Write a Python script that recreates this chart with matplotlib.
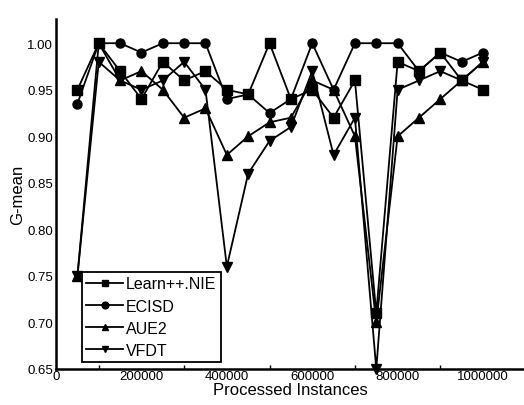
import matplotlib
matplotlib.use('Agg')
import matplotlib.pyplot as plt
from matplotlib.ticker import MultipleLocator, FixedLocator

plt.rcParams['font.family'] = ['Liberation Sans', 'DejaVu Sans']

# data
instances = [50000, 100000, 150000, 200000, 250000, 300000, 350000, 400000,
             450000, 500000, 550000, 600000, 650000, 700000, 750000, 800000,
             850000, 900000, 950000, 1000000]
learn_nie = [0.95, 1.00, 0.97, 0.94, 0.98, 0.96, 0.97, 0.95, 0.945, 1.00,
             0.94, 0.95, 0.92, 0.96, 0.71, 0.98, 0.97, 0.99, 0.96, 0.95]
ecisd = [0.935, 1.00, 1.00, 0.99, 1.00, 1.00, 1.00, 0.94, 0.945, 0.925,
         0.94, 1.00, 0.95, 1.00, 1.00, 1.00, 0.97, 0.99, 0.98, 0.99]
aue2 = [0.75, 1.00, 0.96, 0.97, 0.95, 0.92, 0.93, 0.88, 0.90, 0.915,
        0.92, 0.96, 0.95, 0.90, 0.70, 0.90, 0.92, 0.94, 0.96, 0.98]
vfdt = [0.75, 0.98, 0.96, 0.95, 0.96, 0.98, 0.95, 0.76, 0.86, 0.895,
        0.91, 0.97, 0.88, 0.92, 0.65, 0.95, 0.96, 0.97, 0.96, 0.98]

series = [('Learn++.NIE', learn_nie, 's'),
          ('ECISD', ecisd, 'o'),
          ('AUE2', aue2, '^'),
          ('VFDT', vfdt, 'v')]

fig = plt.figure(figsize=(5.24, 4.06), dpi=100)
ax = fig.add_axes([0.107, 0.0887, 0.893, 0.862])

for name, vals, mk in series:
    ax.plot(instances, vals, color='black', linewidth=1.3, marker=mk,
            markersize=6.5, label=name, clip_on=False)

ax.set_xlim(0, 1096000)
ax.set_ylim(0.65, 1.026)

ax.xaxis.set_major_locator(MultipleLocator(200000))
ax.xaxis.set_major_formatter(plt.FuncFormatter(lambda v, p: '%d' % v))
ax.xaxis.set_minor_locator(FixedLocator([100000, 300000, 500000, 700000, 900000]))
ax.yaxis.set_major_locator(MultipleLocator(0.05))
ax.yaxis.set_major_formatter(plt.FuncFormatter(lambda v, p: '%.2f' % v))

ax.tick_params(axis='x', which='major', length=0, pad=1, labelsize=9.5)
ax.tick_params(axis='x', which='minor', direction='in', length=3, width=1)
ax.tick_params(axis='y', length=0, pad=2, labelsize=9.5)

for s in ['top', 'right']:
    ax.spines[s].set_visible(False)
for s in ['left', 'bottom']:
    ax.spines[s].set_linewidth(1.8)

ax.set_xlabel('Processed Instances', fontsize=12, labelpad=0)
ax.set_ylabel('G-mean', fontsize=12, labelpad=2)

leg = ax.legend(loc='lower left', bbox_to_anchor=(0.056, 0.02), fontsize=11.5,
                numpoints=1, markerscale=0.75, handlelength=2.3,
                handletextpad=0.2, borderpad=0.25, labelspacing=0.45,
                borderaxespad=0, fancybox=False, framealpha=1,
                edgecolor='black')
leg.get_frame().set_linewidth(1.3)

plt.savefig('out.png', dpi=100)
